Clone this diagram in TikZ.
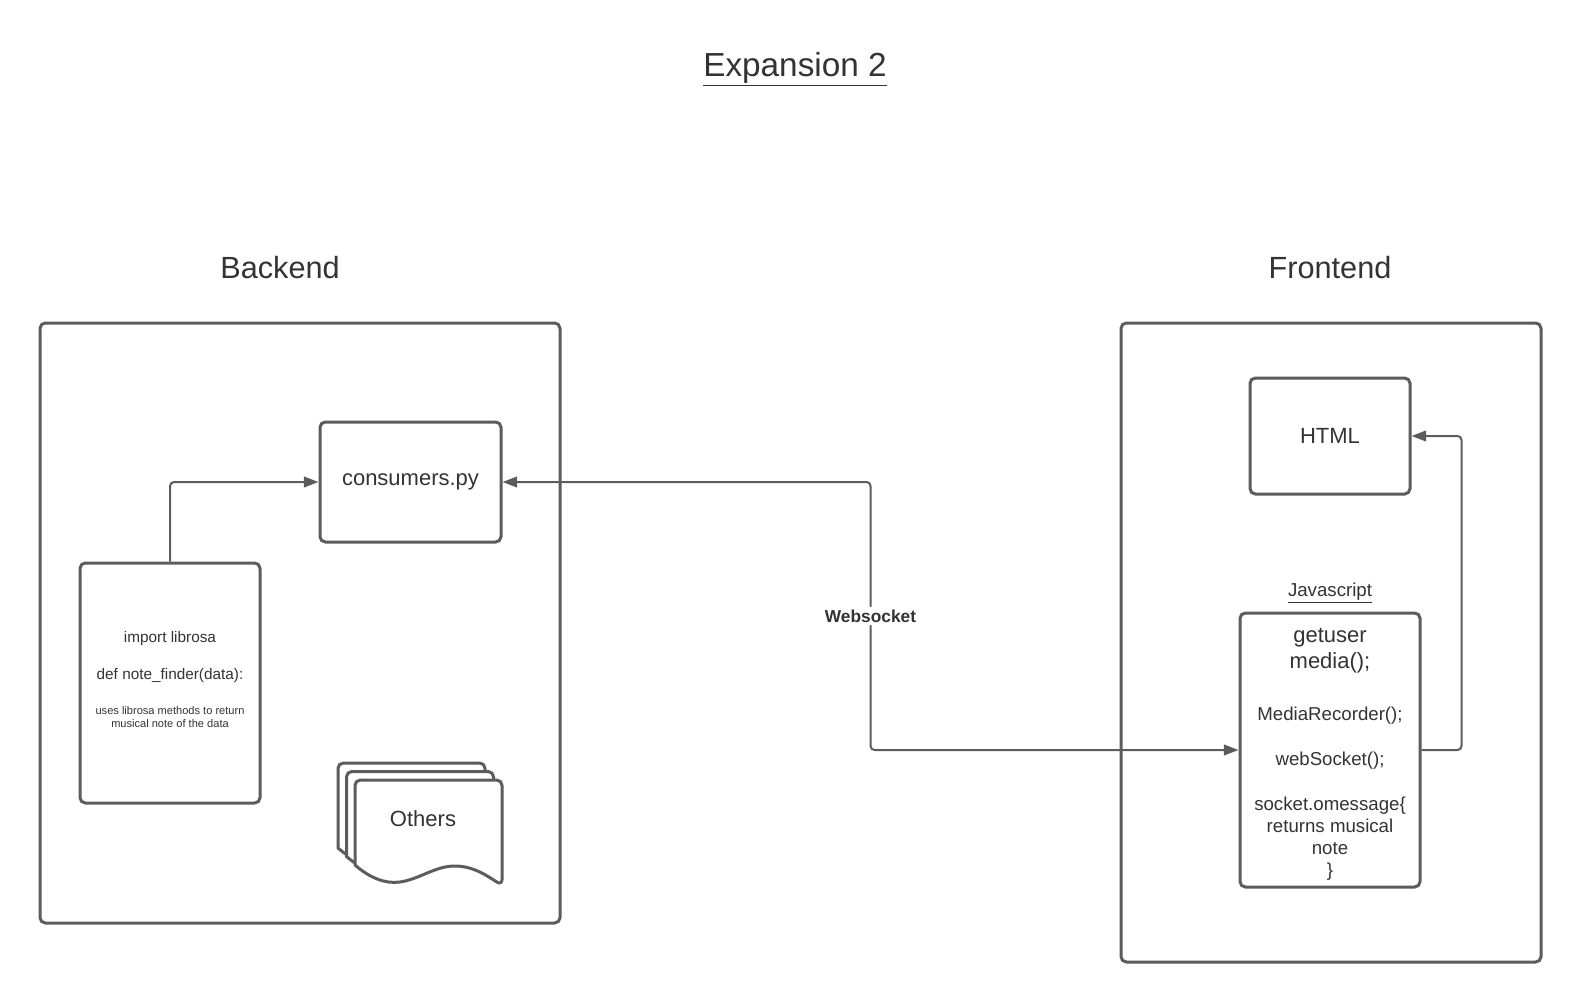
\documentclass[tikz,border=0pt]{standalone}
\usepackage{fontspec}
\setmainfont{Liberation Sans}
\usetikzlibrary{positioning, arrows.meta}

\definecolor{linegray}{HTML}{5C5C5C}
\definecolor{textgray}{HTML}{333333}

\newcommand{\smalltxt}[1]{{\fontsize{8.3}{10}\selectfont #1}}
\newcommand{\bigtxt}[1]{{\fontsize{16.5}{19.5}\selectfont #1}}

\begin{document}
\begin{tikzpicture}[
        x=0.75pt, y=-0.75pt,
        frame/.style={draw=linegray, line width=2.25pt, rounded corners=4pt, inner sep=0pt},
        box/.style={draw=linegray, line width=2.25pt, rounded corners=4pt, align=flush center, text=textgray, inner sep=0pt, font=\fontsize{16.5}{19.5}\selectfont},
        heading/.style={text=textgray, font=\fontsize{23}{27}\selectfont},
        arrow/.style={draw=linegray, line width=1.5pt, rounded corners=3pt, -{Triangle[length=11pt, width=8pt]}},
        docline/.style={draw=linegray, line width=2.25pt, fill=white, line join=round}
    ]
        \useasboundingbox (0,0) rectangle (1580,1003);

        % Titles
        \node[text=textgray, font=\fontsize{25}{30}\selectfont] (title) at (795,69) {\underline{Expansion 2}};
        \node[heading] (backlabel) at (280,268) {Backend};
        \node[heading] (frontlabel) at (1330,268) {Frontend};

        % Containers
        \node[frame, minimum width=390pt, minimum height=450pt] (backend) at (300,623) {};
        \node[frame, minimum width=315pt, minimum height=479.25pt] (frontend) at (1331,642.5) {};

        % Backend nodes
        \node[box, minimum width=135.75pt, minimum height=90pt] (consumers) at (410.5,482) {consumers.py};
        \node[box, text width=135pt, minimum height=180pt, font=\fontsize{11.5}{14}\selectfont] (librosa) at (170,683) {import librosa\\[13.75pt]
            def note\_finder(data):\\[12.25pt]
            \smalltxt{uses librosa methods to return}\\[-4pt]
            \smalltxt{musical note of the data}\rule[-5.5pt]{0pt}{0pt}};

        % Stacked documents
        \foreach \s in {2,1,0}
            \draw[docline, shift={(-8.5*\s,-8.5*\s)}] (355,865) [rounded corners=4pt] -- (355,780) -- (502,780) -- (502,885) [sharp corners]
                .. controls (490,878) and (475,866) .. (455,866)
                .. controls (435,866) and (420,879) .. (400,882)
                .. controls (385,884) and (370,878) .. (355,865) -- cycle;
        \node[text=textgray, font=\fontsize{16.5}{19.5}\selectfont] (others) at (423,819) {Others};

        % Frontend nodes
        \node[box, minimum width=120pt, minimum height=87pt] (html) at (1330,436) {HTML};
        \node[text=textgray, font=\fontsize{14}{16.5}\selectfont] (jslabel) at (1330,593) {\underline{Javascript}};
        \node[box, text width=135pt, minimum height=205.5pt, font=\fontsize{14}{16.5}\selectfont] (js) at (1330,750) {\bigtxt{\rule{0pt}{17pt}getuser}\\[3pt]
            \bigtxt{media();}\\[22.5pt]
            MediaRecorder();\\[17.25pt]
            webSocket();\\[17.25pt]
            socket.omessage\{\\ returns musical\\ note\\ \}};

        % Paths
        \path (consumers.east) ++(368,0) coordinate (wsturn);
        \path (html.east) ++(50,0) coordinate (jsbend);
        \draw[arrow] (librosa.north) |- (consumers.west);
        \draw[arrow, {Triangle[length=11pt, width=8pt]}-{Triangle[length=11pt, width=8pt]}] (consumers.east) -- (wsturn) |- node[pos=0.25, fill=white, text=textgray, inner sep=2pt, font=\fontsize{13}{15}\selectfont\bfseries] (wslabel) {Websocket} (js.west);
        \draw[arrow] (js.east) -| (jsbend) -- (html.east);

    \end{tikzpicture}
\end{document}
